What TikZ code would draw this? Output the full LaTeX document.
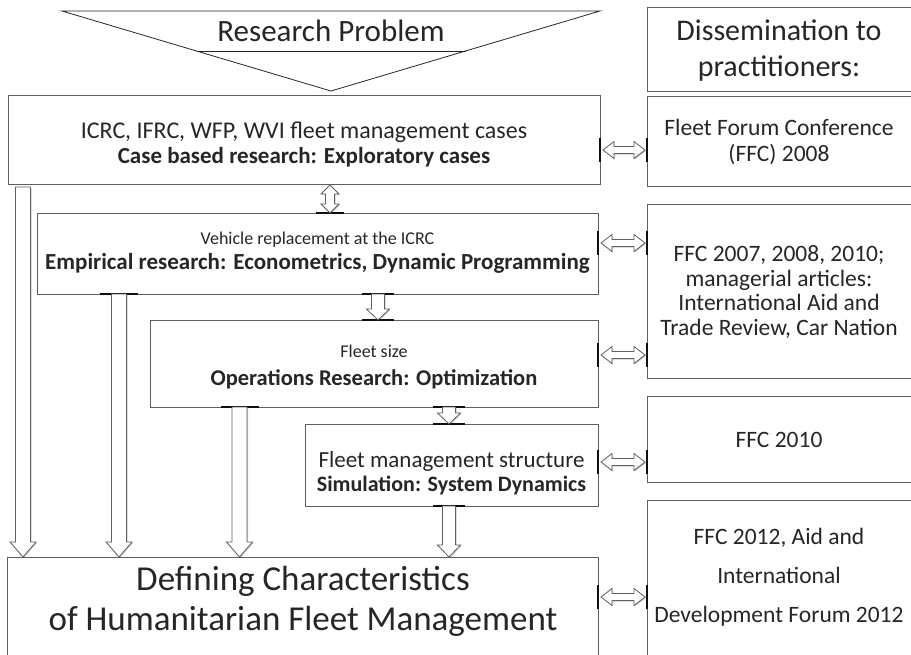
\documentclass[tikz,border=0pt]{standalone}
\usepackage{fontspec}
\setmainfont{Carlito}
\usetikzlibrary{calc,shadows}
\definecolor{ink}{RGB}{38,38,38}
\definecolor{rim}{RGB}{95,95,95}
\definecolor{barcol}{RGB}{15,15,15}
\newcommand\fs[1]{\fontsize{#1}{#1}\selectfont}
\tikzset{
  box/.style={draw=rim, line width=0.9pt, inner sep=0pt, outer sep=0pt, anchor=north west},
  txt/.style={text=ink, align=center, inner sep=0pt, font=\fontsize{23.5}{24.5}\selectfont},
  hollow/.style={draw=rim, line width=0.8pt, fill=white, line join=miter,
    drop shadow={shadow xshift=1pt, shadow yshift=-1pt, opacity=0.2, fill=black}},
  thickbar/.style={draw=barcol, line width=2.4pt},
  probline/.style={draw=ink, line width=0.8pt},
}
% hollow block arrow pointing down: start, end, shaft half width, head half width, head length
\newcommand\downblock[5]{%
  \draw[hollow] let \p1=#1, \p2=#2 in
    (\x1-#3,\y1) -- (\x1+#3,\y1) -- (\x1+#3,\y2+#5) -- (\x1+#4,\y2+#5) -- (\x1,\y2)
    -- (\x1-#4,\y2+#5) -- (\x1-#3,\y2+#5) -- cycle;}
% hollow block arrow with heads at both ends, vertical
\newcommand\updownblock[5]{%
  \draw[hollow] let \p1=#1, \p2=#2 in
    (\x1,\y1) -- (\x1+#4,\y1-#5) -- (\x1+#3,\y1-#5) -- (\x1+#3,\y2+#5) -- (\x1+#4,\y2+#5)
    -- (\x1,\y2) -- (\x1-#4,\y2+#5) -- (\x1-#3,\y2+#5) -- (\x1-#3,\y1-#5) -- (\x1-#4,\y1-#5) -- cycle;}
% hollow block arrow with heads at both ends, horizontal
\newcommand\leftrightblock[5]{%
  \draw[hollow] let \p1=#1, \p2=#2 in
    (\x1,\y1) -- (\x1+#5,\y1+#4) -- (\x1+#5,\y1+#3) -- (\x2-#5,\y1+#3) -- (\x2-#5,\y1+#4)
    -- (\x2,\y1) -- (\x2-#5,\y1-#4) -- (\x2-#5,\y1-#3) -- (\x1+#5,\y1-#3) -- (\x1+#5,\y1-#4) -- cycle;}
\begin{document}
\begin{tikzpicture}[x=1pt,y=-1pt]
\clip (0,0) rectangle (911,654);
\fill[white] (0,0) rectangle (911,654);

% research problem funnel
\coordinate (tl) at (62,11);
\coordinate (tr) at (600,11);
\coordinate (tip) at (331,91);
\draw[probline] (tl) -- (tr) -- (tip) -- cycle;
\draw[probline] ($(tl)!0.5!(tip)$) -- ($(tr)!0.5!(tip)$);
\node[txt, font=\fontsize{31}{34}\selectfont] (prob) at (331,31) {Research Problem};

% research stages
\node[box, minimum width=592pt, minimum height=89pt] (b1) at (8,95) {};
\node[box, minimum width=561pt, minimum height=81pt] (b2) at (37,213) {};
\node[box, minimum width=448pt, minimum height=87pt] (b3) at (150,320) {};
\node[box, minimum width=293pt, minimum height=82pt] (b4) at (305,424) {};
\node[box, minimum width=591pt, minimum height=120pt] (b5) at (7,557) {};

\node[txt] (t1) at ($(b1.center)+(0,5)$) {{\fs{24}ICRC, IFRC, WFP, WVI fleet management cases}\\{\fs{23}\bfseries Case based research: Exploratory cases}};
\node[txt] (t2) at ($(b2.center)+(0,-1)$) {{\fs{18}Vehicle replacement at the ICRC}\\{\fs{23}\bfseries Empirical research: Econometrics, Dynamic Programming}};
\node[txt, font=\fontsize{23.5}{28}\selectfont] (t3) at ($(b3.center)+(0,4)$) {{\fs{18}Fleet size}\\{\fs{22.5}\bfseries Operations Research: Optimization}};
\node[txt] (t4) at ($(b4.center)+(0,8)$) {{\fs{23}Fleet management structure}\\{\fs{22}\bfseries Simulation: System Dynamics}};
\node[txt, font=\fontsize{35}{40}\selectfont] (t5) at (303,601) {Defining Characteristics\\of Humanitarian Fleet Management};

% dissemination column
\node[box, minimum width=268pt, minimum height=84pt] (d0) at (647,7) {};
\node[box, minimum width=268pt, minimum height=90pt] (r1) at (647,96) {};
\node[box, minimum width=268pt, minimum height=174pt] (r2) at (647,204) {};
\node[box, minimum width=268pt, minimum height=86pt] (r3) at (647,396) {};
\node[box, minimum width=268pt, minimum height=170pt] (r4) at (647,500) {};

\node[txt, font=\fontsize{30}{36}\selectfont] (dt) at (779,51) {Dissemination to\\practitioners:};
\node[txt, font=\fontsize{23.5}{26}\selectfont] (s1) at ($(r1.west)+(132,1)$) {Fleet Forum Conference\\(FFC) 2008};
\node[txt] (s2) at ($(r2.west)+(132,1)$) {FFC 2007, 2008, 2010;\\managerial articles:\\International Aid and\\Trade Review, Car Nation};
\node[txt] (s3) at (779,440) {FFC 2010};
\node[txt, font=\fontsize{23.5}{39}\selectfont] (s4) at (779,577) {FFC 2012, Aid and\\International\\Development Forum 2012};

% links to dissemination
\coordinate (h1) at (0,150);
\coordinate (h2) at (0,243);
\coordinate (h3) at (0,355);
\coordinate (h4) at (0,462);
\coordinate (h5) at (0,597);
\foreach \h/\l/\r in {h1/b1/r1, h2/b2/r2, h3/b3/r2, h4/b4/r3, h5/b5/r4}{
  \draw[thickbar] ($(\l.east |- \h)+(0,-12)$) -- ($(\l.east |- \h)+(0,12)$);
  \draw[thickbar] ($(\r.west |- \h)+(0,-12)$) -- ($(\r.west |- \h)+(0,12)$);
  \leftrightblock{($(\l.east |- \h)+(3,0)$)}{($(\r.west |- \h)+(-2,0)$)}{3.5pt}{8.5pt}{11pt}
}

% flow between stages
\coordinate (v1) at (330,0);
\coordinate (v2) at (378,0);
\coordinate (v3) at (449,0);
\coordinate (v4) at (23,0);
\coordinate (v5) at (119,0);
\coordinate (v6) at (239.5,0);

\draw[thickbar] ($(b2.north -| v1)+(-14,0)$) -- ($(b2.north -| v1)+(14,0)$);
\updownblock{($(b1.south -| v1)+(0,1)$)}{(b2.north -| v1)}{4.5pt}{9pt}{9pt}

\draw[thickbar] ($(b2.south -| v2)+(-16,0)$) -- ($(b2.south -| v2)+(16,0)$);
\draw[thickbar] ($(b3.north -| v2)+(-16,0)$) -- ($(b3.north -| v2)+(16,0)$);
\downblock{(b2.south -| v2)}{(b3.north -| v2)}{6.5pt}{11.5pt}{11pt}

\draw[thickbar] ($(b3.south -| v3)+(-16,0)$) -- ($(b3.south -| v3)+(16,0)$);
\draw[thickbar] ($(b4.north -| v3)+(-16,0)$) -- ($(b4.north -| v3)+(16,0)$);
\downblock{(b3.south -| v3)}{(b4.north -| v3)}{6.5pt}{11.5pt}{11pt}

\draw[thickbar] ($(b4.south -| v3)+(-16,0)$) -- ($(b4.south -| v3)+(16,0)$);
\downblock{(b4.south -| v3)}{(b5.north -| v3)}{6.5pt}{11.5pt}{12pt}

\downblock{($(b1.south -| v4)+(0,3)$)}{(b5.north -| v4)}{7.5pt}{13pt}{15pt}
\draw[thickbar] ($(b2.south -| v5)+(-19,0)$) -- ($(b2.south -| v5)+(19,0)$);
\downblock{(b2.south -| v5)}{(b5.north -| v5)}{7.5pt}{13pt}{15pt}
\draw[thickbar] ($(b3.south -| v6)+(-19,0)$) -- ($(b3.south -| v6)+(19,0)$);
\downblock{(b3.south -| v6)}{(b5.north -| v6)}{7.5pt}{13pt}{15pt}
\end{tikzpicture}
\end{document}
